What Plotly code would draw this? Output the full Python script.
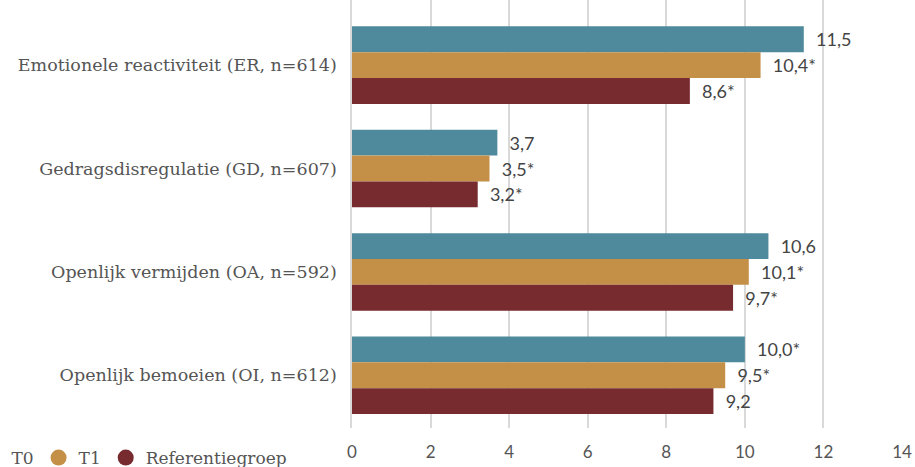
import plotly.graph_objects as go

categories = [
    "Emotionele reactiviteit (ER, n=614)",
    "Gedragsdisregulatie (GD, n=607)",
    "Openlijk vermijden (OA, n=592)",
    "Openlijk bemoeien (OI, n=612)",
]
series_names = ["T0", "T1", "Referentiegroep"]
t0_values = [11.5, 3.7, 10.6, 10.0]
t1_values = [10.4, 3.5, 10.1, 9.5]
ref_values = [8.6, 3.2, 9.7, 9.2]
t0_sig = [False, False, False, True]
t1_sig = [True, True, True, True]
ref_sig = [True, True, True, False]
x_ticks = [0, 2, 4, 6, 8, 10, 12, 14]

colors = ["#4E8A9B", "#C48F47", "#772B2F"]
label_font = "Lato, Open Sans, sans-serif"
serif_font = "DejaVu Serif, serif"


def fmt(v, s):
    return "  " + f"{v:.1f}".replace(".", ",") + ("*" if s else "")


fig = go.Figure()
for name, vals, sig, col in zip(series_names, [t0_values, t1_values, ref_values],
                                 [t0_sig, t1_sig, ref_sig], colors):
    fig.add_trace(go.Bar(
        y=categories, x=vals, orientation="h", name=name,
        marker=dict(color=col, line=dict(width=0)),
        text=[fmt(v, s) for v, s in zip(vals, sig)],
        textposition="outside", cliponaxis=False,
        textfont=dict(family=label_font, size=18, color="#444444"),
        showlegend=False,
    ))
    fig.add_trace(go.Scatter(
        x=[None], y=[None], mode="markers", name=name,
        marker=dict(symbol="circle", size=20, color=col),
        showlegend=True,
    ))

fig.update_layout(
    width=915, height=467,
    margin=dict(l=352, r=13, t=0, b=39, autoexpand=False),
    paper_bgcolor="white", plot_bgcolor="white",
    barmode="group", bargap=0.25, bargroupgap=0,
    separators=",.",
    xaxis=dict(
        range=[0, 14], tickvals=x_ticks, showgrid=True, gridcolor="#D9D9D9",
        gridwidth=1.5, zeroline=False, showline=False,
        tickfont=dict(family=label_font, size=17, color="#555555"),
        ticks="outside", ticklen=0, ticklabelstandoff=9,
    ),
    yaxis=dict(
        autorange=False, range=[3.51, -0.63], showgrid=False, zeroline=False,
        showline=True, linecolor="#D9D9D9", linewidth=1.5,
        tickfont=dict(family=serif_font, size=17.5, color="#555555"),
        ticklabelstandoff=10,
    ),
    legend=dict(
        orientation="h", x=-0.692, xanchor="left", y=-0.028, yanchor="top",
        font=dict(family=serif_font, size=17, color="#555555"),
        bgcolor="rgba(0,0,0,0)",
    ),
    showlegend=True,
)

fig.write_html("out.html", config={"displayModeBar": False},
               post_script="document.body.style.margin='0px';")
